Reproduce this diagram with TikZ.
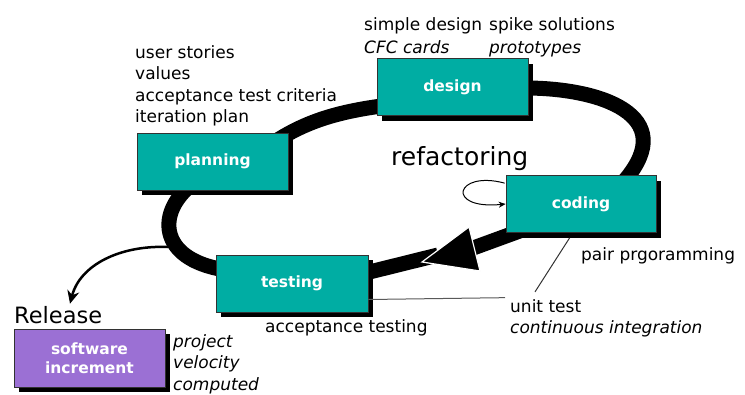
\documentclass[tikz,border=0pt]{standalone}
\usepackage{fontspec}
\setmainfont{DejaVu Sans}
\usetikzlibrary{shadows,calc,arrows.meta,backgrounds}
\definecolor{tealbox}{RGB}{0,173,163}
\definecolor{purpbox}{RGB}{155,112,212}
\definecolor{edgegray}{RGB}{50,50,50}
\begin{document}
\begin{tikzpicture}[x=1pt,y=-1pt,
  box/.style={draw=edgegray,line width=0.8pt,fill=tealbox,minimum width=151pt,minimum height=57pt,inner sep=0pt,
    text=white,font=\fontsize{15.5}{19}\selectfont\bfseries,align=center,
    drop shadow={shadow xshift=5pt,shadow yshift=-5pt,opacity=1,fill=black}},
  lbl/.style={anchor=base west,inner sep=0pt,font=\fontsize{17}{21.5}\selectfont},
  ital/.style={anchor=base west,inner sep=0pt,font=\fontsize{17}{21.5}\selectfont\itshape},
  cyc/.style={line width=15pt},
  thinline/.style={line width=1pt},
]
\useasboundingbox (0,0) rectangle (745,394);

% boxes
\node[box] (planning) at (212.5,161.5) {planning};
\node[box] (design) at (452.5,87) {design};
\node[box,minimum width=150pt] (coding) at (581,204) {coding};
\node[box,minimum width=152pt] (testing) at (292,283.5) {testing};
\node[box,fill=purpbox,minimum height=58pt] (software) at (89.5,358) {software\\increment};

% cycle
\begin{scope}[on background layer]
\draw[cyc] ($(planning.north east)+(-18,12)$) .. controls (300,125) and (330,112) .. ($(design.west)+(13,18)$);
\draw[cyc] ($(design.east)+(-3,1)$) .. controls (600,88) and (680,115) .. ($(coding.north)+(44,5)$);
\draw[cyc] ($(coding.south west)+(39,-11)$) -- (465,251);
\draw[cyc] ($(testing.east)+(-5,-10)$) -- (438,255);
\draw[cyc] ($(planning.south)+(-22,-5)$) .. controls (155,215) and (160,262) .. ($(testing.west)+(14,-13)$);
\end{scope}
\coordinate (tip) at (422,262);
\fill[black,draw=white,line width=1.2pt,line join=miter] (tip) -- (469,227) -- (480,271) -- cycle;

% release arrow
\node[anchor=base west,inner sep=0pt,font=\fontsize{22.5}{27}\selectfont] (release) at (14,323) {Release};
\coordinate (relstart) at (168,247);
\draw[line width=2.5pt,-{Stealth[length=13pt,width=12pt]}] (relstart) .. controls (120,245) and (80,265) .. ($(release.north west)+(56,-2)$);

% refactoring loop
\node[anchor=base west,inner sep=0pt,font=\fontsize{25}{30}\selectfont] (refac) at (391,165) {refactoring};
\coordinate (loopstart) at ($(coding.north west)+(-1,8)$);
\draw[thinline,-{Stealth[length=7pt,width=6pt]}] (loopstart) .. controls (455,170) and (445,210) .. (coding.west);

% texts
\node[lbl] (us1) at (135,58) {user stories};
\node[lbl] (us2) at (135,79.5) {values};
\node[lbl] (us3) at (135,101) {acceptance test criteria};
\node[lbl] (us4) at (135,122.5) {iteration plan};

\node[lbl] (sd) at (364,30) {simple design};
\node[lbl] (ss) at (489,30) {spike solutions};
\node[ital] (cfc) at (364,53) {CFC cards};
\node[ital] (proto) at (489,53) {prototypes};

\node[lbl] (pair) at (581,260) {pair prgoramming};
\node[lbl] (unit) at (510,312) {unit test};
\node[ital] (ci) at (510,333) {continuous integration};
\node[lbl] (acc) at (265,332) {acceptance testing};

\node[ital] (pv1) at (173,347) {project};
\node[ital] (pv2) at (173,368.5) {velocity};
\node[ital] (pv3) at (173,390) {computed};

% annotation lines
\coordinate (cline) at ($(coding.south west)+(64,5)$);
\draw[thinline,edgegray] (cline) -- ($(unit.north west)+(25,-7)$);
\draw[thinline,black!65] ($(testing.east)+(0,16)$) -- ($(unit.west)+(-5,-8)$);
\end{tikzpicture}
\end{document}
